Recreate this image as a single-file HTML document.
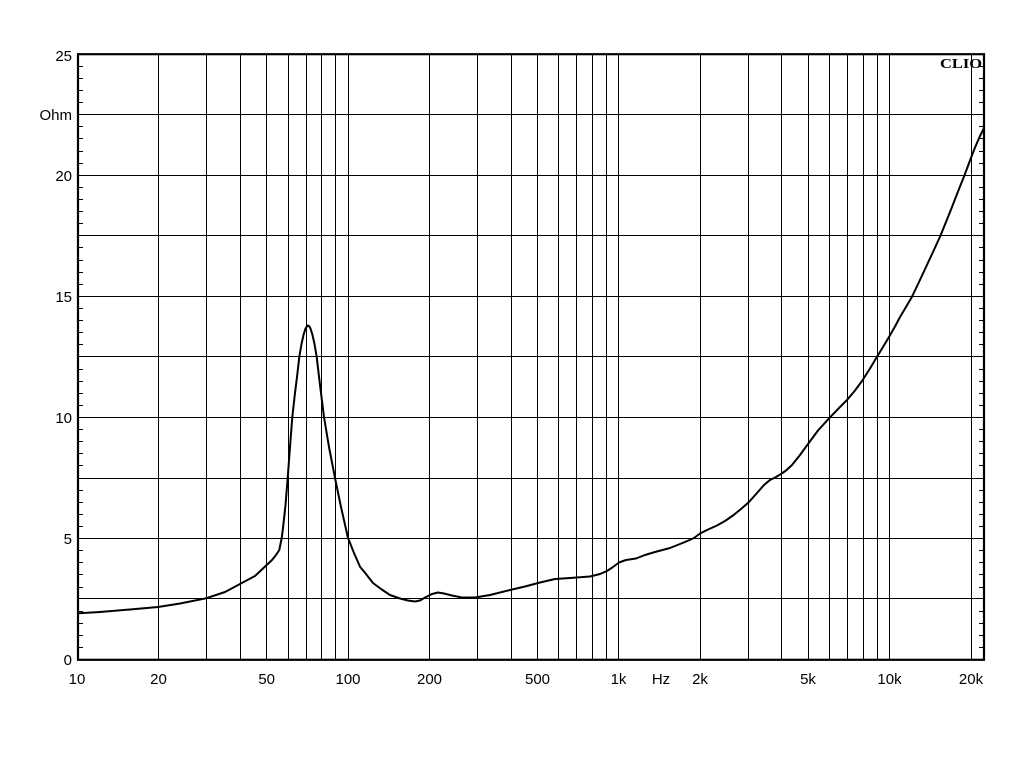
<!DOCTYPE html>
<html><head><meta charset="utf-8"><style>
html,body{margin:0;padding:0;background:#fff;}
svg{display:block;}
text{font-family:"Liberation Sans",Arial,sans-serif;font-size:15px;fill:#000;}
</style></head><body>
<svg width="1024" height="768" viewBox="0 0 1024 768" xmlns="http://www.w3.org/2000/svg">
<rect width="1024" height="768" fill="#fff"/>
<path fill="none" stroke="#000" stroke-width="1" shape-rendering="crispEdges" d="
M158.5,54V660 M206.5,54V660 M240.5,54V660 M266.5,54V660 M288.5,54V660 M306.5,54V660 M321.5,54V660 M335.5,54V660
M348.5,54V660 M429.5,54V660 M477.5,54V660 M511.5,54V660 M537.5,54V660 M558.5,54V660 M576.5,54V660 M592.5,54V660 M606.5,54V660
M618.5,54V660 M700.5,54V660 M748.5,54V660 M781.5,54V660 M808.5,54V660 M829.5,54V660 M847.5,54V660 M863.5,54V660 M877.5,54V660
M889.5,54V660 M971.5,54V660
M78,598.5H984 M78,538.5H984 M78,478.5H984 M78,417.5H984 M78,356.5H984 M78,296.5H984 M78,235.5H984 M78,175.5H984 M78,114.5H984"/>
<path fill="none" stroke="#000" stroke-width="1" shape-rendering="crispEdges" d="
M78,647.5h5 M78,635.5h5 M78,623.5h5 M78,611.5h5 M78,587.5h5 M78,574.5h5 M78,562.5h5 M78,550.5h5
M78,526.5h5 M78,514.5h5 M78,502.5h5 M78,490.5h5 M78,465.5h5 M78,453.5h5 M78,441.5h5 M78,429.5h5
M78,405.5h5 M78,393.5h5 M78,381.5h5 M78,369.5h5 M78,344.5h5 M78,332.5h5 M78,320.5h5 M78,308.5h5
M78,284.5h5 M78,272.5h5 M78,260.5h5 M78,247.5h5 M78,223.5h5 M78,211.5h5 M78,199.5h5 M78,187.5h5
M78,163.5h5 M78,151.5h5 M78,138.5h5 M78,126.5h5 M78,102.5h5 M78,90.5h5 M78,78.5h5 M78,66.5h5
M979,647.5h5 M979,635.5h5 M979,623.5h5 M979,611.5h5 M979,587.5h5 M979,574.5h5 M979,562.5h5 M979,550.5h5
M979,526.5h5 M979,514.5h5 M979,502.5h5 M979,490.5h5 M979,465.5h5 M979,453.5h5 M979,441.5h5 M979,429.5h5
M979,405.5h5 M979,393.5h5 M979,381.5h5 M979,369.5h5 M979,344.5h5 M979,332.5h5 M979,320.5h5 M979,308.5h5
M979,284.5h5 M979,272.5h5 M979,260.5h5 M979,247.5h5 M979,223.5h5 M979,211.5h5 M979,199.5h5 M979,187.5h5
M979,163.5h5 M979,151.5h5 M979,138.5h5 M979,126.5h5 M979,102.5h5 M979,90.5h5 M979,78.5h5 M979,66.5h5"/>
<rect x="78" y="54.2" width="906" height="605.6" fill="none" stroke="#000" stroke-width="2.2"/>
<polyline fill="none" stroke="#000" stroke-width="2" stroke-linejoin="round" stroke-linecap="round" points="
79,613.3 100,612 130,609.5 158,607 180,603.5 206,598.3 225,592 240,584 255,576 266.7,565 272,560 276,555 279.3,550 281.7,538 283,528 285.5,505 287.7,478 290,447 292.3,417 295,393 297,377 299.3,357 301.5,344 303.5,335 305.5,328.5 307.5,325.5 309,326 310.5,328.5 312.5,335 314.5,344 316.7,357 320,385 324,417 329,447 335,478 341,507 348,538 354,553 360,566.7 366,574 373,583 381,589 390,595 400,598.5 408,600.5 415,601.5 420,600.5 426,597 432,594 438,592.5 444,593.5 452,595.5 462,597.5 475,597.5 490,595 510,590 525,586.5 540,582.5 555,579 570,578 590,576.5 600,574 607,571 613,567 619,562.5 626,560 636,558.5 645,555 655,552 670,548 685,542 694,538 700,533.5 707,530 717,525.5 725,521 733,515.5 741,509 749,502 757,493 764,485 770,480 776,477 781,474 786,470.5 792,465 800,455 808,444 818,430.5 830,417.3 840,407 847,400 855,390.5 862,381 870,368.5 877,356.7 883,347 889,337 895,326.5 900,317 906,307 912,296.7 919,282 926,267 933,252 940,236.7 946,222 952,207 958,191.5 964.3,175.7 970,160.5 975,147.5 980,136 984,128"/>
<g text-anchor="end">
<text x="72" y="61">25</text>
<text x="72" y="120">Ohm</text>
<text x="72" y="181">20</text>
<text x="72" y="302">15</text>
<text x="72" y="423">10</text>
<text x="72" y="544">5</text>
<text x="72" y="665">0</text>
</g>
<g text-anchor="middle">
<text x="77" y="684">10</text>
<text x="158.5" y="684">20</text>
<text x="266.7" y="684">50</text>
<text x="348" y="684">100</text>
<text x="429.5" y="684">200</text>
<text x="537.5" y="684">500</text>
<text x="618.5" y="684">1k</text>
<text x="661" y="684">Hz</text>
<text x="700" y="684">2k</text>
<text x="808" y="684">5k</text>
<text x="889.5" y="684">10k</text>
<text x="971" y="684">20k</text>
</g>
<text x="940" y="68" textLength="42" lengthAdjust="spacingAndGlyphs" style="font-family:'Liberation Serif','Times New Roman',serif;font-weight:bold;font-size:14px;">CLIO</text>
</svg>
</body></html>
